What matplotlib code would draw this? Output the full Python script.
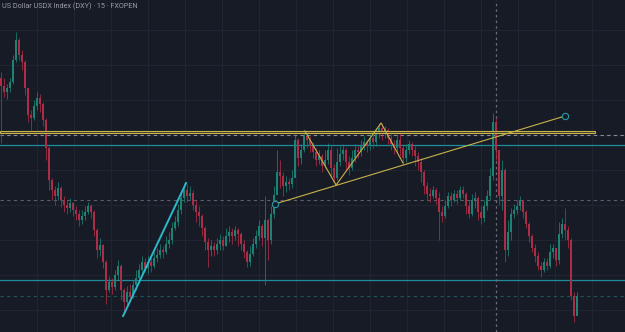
import numpy as np
import matplotlib
matplotlib.use("Agg")
import matplotlib.pyplot as plt
from matplotlib.patches import Rectangle

# US Dollar Index, 15 min candles (price values)
title = "US Dollar USDX Index (DXY) · 15 · FXOPEN"
first_open = 106.22

closes = [
    106.14, 106.08, 106.12, 106.18, 106.40, 106.60, 106.45, 106.38, 106.12, 105.85,
    105.82, 105.94, 106.02, 105.96, 105.80, 105.52, 105.20, 105.10, 105.04, 105.12,
    105.00, 104.95, 104.92, 104.97, 104.90, 104.86, 104.80, 104.84, 104.88, 104.94,
    104.88, 104.70, 104.50, 104.55, 104.38, 104.10, 104.18, 104.13, 104.25, 104.34,
    104.10, 103.98, 104.08, 104.04, 104.15, 104.22, 104.30, 104.38, 104.32, 104.38,
    104.34, 104.42, 104.45, 104.50, 104.48, 104.56, 104.60, 104.72, 104.78, 104.90,
    105.02, 105.10, 105.04, 105.07, 104.95, 104.88, 104.84, 104.72, 104.58, 104.50,
    104.54, 104.50, 104.56, 104.60, 104.54, 104.64, 104.68, 104.64, 104.70, 104.66,
    104.56, 104.48, 104.38, 104.46, 104.56, 104.64, 104.74, 104.62, 104.80, 104.60,
    104.86, 105.05, 105.28, 105.24, 105.14, 105.18, 105.16, 105.22, 105.60, 105.42,
    105.50, 105.64, 105.60, 105.54, 105.48, 105.40, 105.44, 105.34, 105.40, 105.50,
    105.32, 105.22, 105.38, 105.46, 105.50, 105.38, 105.32, 105.42, 105.50, 105.48,
    105.54, 105.58, 105.54, 105.62, 105.58, 105.68, 105.72, 105.66, 105.70, 105.62,
    105.56, 105.52, 105.60, 105.52, 105.42, 105.50, 105.56, 105.50, 105.44, 105.38,
    105.28, 105.14, 105.06, 105.04, 105.10, 105.02, 104.88, 104.84, 104.94, 105.04,
    105.00, 105.06, 105.02, 105.10, 105.06, 104.94, 104.86, 105.00, 105.02, 104.88,
    104.82, 104.94, 105.04, 105.24, 105.78, 105.50, 105.04, 105.30, 104.50, 104.68,
    104.86, 104.90, 104.94, 105.00, 104.88, 104.76, 104.64, 104.52, 104.44, 104.34,
    104.30, 104.38, 104.34, 104.48, 104.52, 104.40, 104.66, 104.76, 104.70, 104.60,
    104.04, 103.84, 104.04,
]
highs = [
    106.28, 106.22, 106.16, 106.22, 106.45, 106.68, 106.62, 106.50, 106.40, 106.10,
    105.90, 106.00, 106.08, 106.06, 105.98, 105.82, 105.54, 105.22, 105.14, 105.18,
    105.14, 105.04, 105.00, 105.02, 104.98, 104.94, 104.90, 104.90, 104.94, 104.98,
    104.96, 104.90, 104.72, 104.62, 104.56, 104.40, 104.24, 104.22, 104.30, 104.40,
    104.36, 104.12, 104.14, 104.16, 104.20, 104.30, 104.36, 104.44, 104.42, 104.44,
    104.42, 104.48, 104.52, 104.56, 104.54, 104.64, 104.68, 104.78, 104.84, 104.96,
    105.08, 105.17, 105.16, 105.14, 105.10, 105.00, 104.94, 104.86, 104.74, 104.62,
    104.60, 104.58, 104.62, 104.66, 104.64, 104.72, 104.74, 104.72, 104.74, 104.72,
    104.68, 104.60, 104.50, 104.54, 104.62, 104.70, 104.80, 104.76, 105.04, 104.82,
    104.94, 105.14, 105.50, 105.40, 105.28, 105.24, 105.22, 105.30, 105.66, 105.62,
    105.56, 105.70, 105.68, 105.64, 105.58, 105.52, 105.50, 105.46, 105.50, 105.57,
    105.54, 105.36, 105.52, 105.54, 105.56, 105.52, 105.44, 105.50, 105.56, 105.54,
    105.60, 105.64, 105.60, 105.66, 105.66, 105.72, 105.77, 105.76, 105.74, 105.72,
    105.66, 105.60, 105.66, 105.68, 105.56, 105.56, 105.60, 105.58, 105.54, 105.48,
    105.42, 105.30, 105.18, 105.12, 105.14, 105.12, 105.08, 104.94, 105.00, 105.08,
    105.08, 105.10, 105.10, 105.14, 105.14, 105.08, 105.00, 105.06, 105.08, 105.04,
    104.94, 105.00, 105.10, 105.32, 105.87, 105.82, 105.50, 105.40, 105.32, 104.80,
    104.92, 104.96, 105.00, 105.04, 105.00, 104.90, 104.78, 104.66, 104.56, 104.48,
    104.38, 104.42, 104.42, 104.56, 104.56, 104.52, 104.78, 104.82, 104.92, 104.74,
    104.62, 104.08, 104.08,
]
lows = [
    105.57, 106.03, 106.01, 106.08, 106.16, 106.38, 106.40, 106.30, 106.05, 105.78,
    105.70, 105.80, 105.90, 105.88, 105.74, 105.40, 105.10, 105.00, 104.95, 105.00,
    104.93, 104.88, 104.86, 104.88, 104.84, 104.80, 104.74, 104.76, 104.80, 104.86,
    104.82, 104.64, 104.42, 104.44, 104.32, 103.96, 104.08, 104.06, 104.10, 104.20,
    104.00, 103.86, 103.95, 103.98, 104.02, 104.10, 104.18, 104.26, 104.28, 104.26,
    104.28, 104.32, 104.38, 104.42, 104.42, 104.46, 104.52, 104.56, 104.70, 104.74,
    104.86, 104.98, 104.98, 105.00, 104.90, 104.78, 104.74, 104.64, 104.50, 104.33,
    104.44, 104.44, 104.46, 104.50, 104.50, 104.54, 104.58, 104.56, 104.60, 104.54,
    104.50, 104.42, 104.33, 104.34, 104.44, 104.52, 104.60, 104.54, 104.15, 104.40,
    104.56, 104.82, 105.10, 105.12, 105.04, 105.08, 105.10, 105.12, 105.24, 105.34,
    105.36, 105.48, 105.52, 105.48, 105.42, 105.34, 105.36, 105.28, 105.32, 105.36,
    105.24, 105.18, 105.20, 105.34, 105.40, 105.30, 105.25, 105.30, 105.38, 105.42,
    105.44, 105.50, 105.48, 105.50, 105.52, 105.54, 105.62, 105.60, 105.62, 105.56,
    105.50, 105.46, 105.48, 105.44, 105.36, 105.38, 105.46, 105.44, 105.34, 105.30,
    105.18, 105.06, 105.00, 104.98, 105.02, 104.96, 104.60, 104.78, 104.82, 104.92,
    104.94, 104.98, 104.96, 105.00, 105.02, 104.86, 104.82, 104.84, 104.92, 104.80,
    104.76, 104.78, 104.90, 105.00, 105.20, 105.40, 104.95, 104.90, 104.38, 104.44,
    104.60, 104.82, 104.86, 104.90, 104.82, 104.72, 104.58, 104.48, 104.38, 104.30,
    104.23, 104.28, 104.30, 104.32, 104.42, 104.34, 104.36, 104.62, 104.60, 104.52,
    104.00, 103.78, 103.88,
]

# drawings on the chart (bar index, price)
impulse_bars = [40.7, 61.7]
impulse_prices = [103.84, 105.17]
zigzag_bars = [101.3, 111.7, 126.7, 134.0]
zigzag_prices = [105.69, 105.15, 105.77, 105.37]
trend_bars = [91.3, 188.0]
trend_prices = [104.96, 105.84]
box_end_bar = 198.0
box_prices = [105.67, 105.69]
solid_levels = [105.55, 104.20]
dashed_levels = [105.65, 105.00]
faint_level = 104.04
cursor_bar = 165.0

# colours
bg = "#171b26"
up_col = "#1c8273"
down_col = "#ad2c46"
yellow = "#c8b24a"
teal = "#1e8c9c"

opens = [first_open] + closes[:-1]
bars = np.arange(len(closes))
o = np.array(opens)
c = np.array(closes)
rising = c >= o

fig = plt.figure(figsize=(6.25, 3.32), dpi=100, facecolor=bg)
ax = fig.add_axes([0, 0, 1, 1])
ax.set_facecolor(bg)

# faint grid
ax.set_xticks([(37 * k - 1) / 3 for k in range(1, 17)])
ax.set_yticks(np.arange(103.90, 106.8, 0.35))
ax.grid(True, color="#222632", linewidth=0.7)
ax.set_axisbelow(True)
ax.tick_params(length=0, labelbottom=False, labelleft=False)
for s in ax.spines.values():
    s.set_visible(False)

# horizontal levels
for lvl in solid_levels:
    ax.axhline(lvl, color=teal, linewidth=0.9, zorder=1)
ax.axhline(dashed_levels[0], color="#8a8d97", linewidth=0.8, linestyle=(0, (3, 3)), zorder=1)
ax.axhline(dashed_levels[1], color="#5b5e69", linewidth=0.8, linestyle=(0, (3, 3)), zorder=1)
ax.axhline(faint_level, color="#1d5559", linewidth=0.8, linestyle=(0, (3, 3)), zorder=1)
ax.axvline(cursor_bar, color="#6a6d77", linewidth=0.9, linestyle=(0, (2, 2.5)), zorder=1)

# candles
cols = np.where(rising, up_col, down_col)
ax.vlines(bars, lows, highs, colors=cols, linewidth=0.55, zorder=2)
ax.bar(bars, c - o, bottom=o, width=0.55, color=cols, linewidth=0, zorder=3)

# drawings
ax.add_patch(Rectangle((-0.5, box_prices[0]), box_end_bar + 0.5, box_prices[1] - box_prices[0],
                       facecolor="#3a3a2c", edgecolor=yellow, linewidth=0.8, zorder=4))
ax.plot(impulse_bars, impulse_prices, color="#2bb8cc", linewidth=1.4, zorder=5)
ax.plot(zigzag_bars, zigzag_prices, color=yellow, linewidth=0.8, zorder=5)
ax.plot(trend_bars, trend_prices, color=yellow, linewidth=0.8, zorder=5)
ax.plot(trend_bars, trend_prices, linestyle="none", marker="o", markersize=4.5,
        markerfacecolor=bg, markeredgecolor="#2a9aa5", markeredgewidth=0.8, zorder=6)

ax.set_xlim(-1 / 3, 208)
ax.set_ylim(103.68, 107.00)

fig.text(0.003, 0.982, title, color="#9a9da6", fontsize=5.2, family="Roboto",
         ha="left", va="center")

fig.savefig("out.png", dpi=100, facecolor=bg)
